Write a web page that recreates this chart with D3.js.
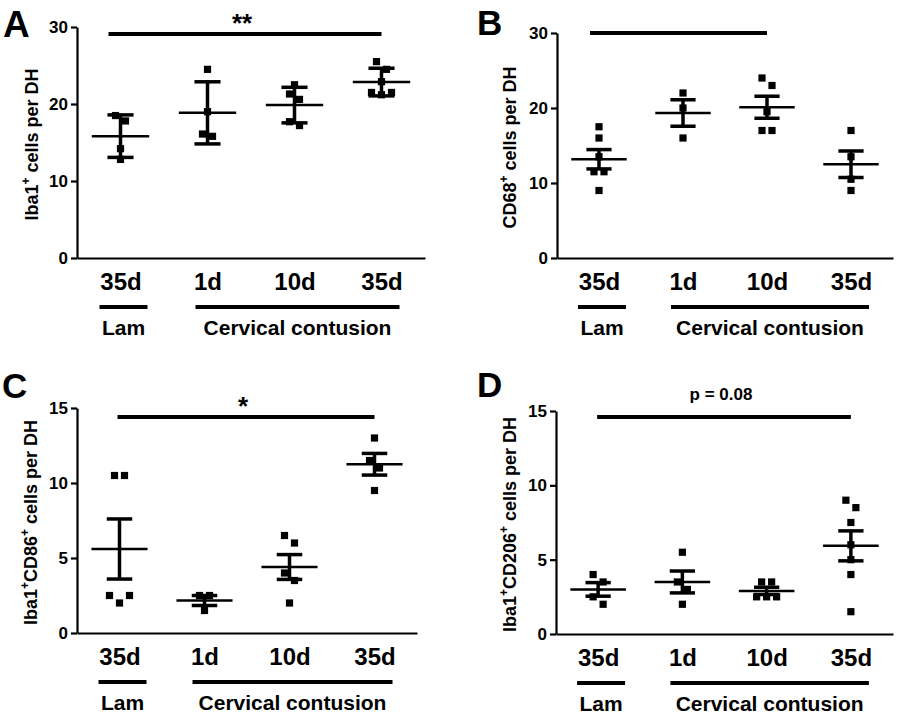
<!DOCTYPE html>
<html>
<head>
<meta charset="utf-8">
<script src="https://cdn.jsdelivr.net/npm/d3@7/dist/d3.min.js"></script>
<style>
  html, body { margin: 0; padding: 0; background: #fff; }
  svg { display: block; }
  text { font-family: "Liberation Sans", Arial, Helvetica, sans-serif; font-weight: bold; fill: #000; }
</style>
</head>
<body>
<svg id="chart" width="900" height="721"></svg>
<script>
// ---------------- DATA ----------------
const categories = ["35d", "1d", "10d", "35d"];
const groupLabels = ["Lam", "Cervical contusion"];
const groupSpans = [[0, 0], [1, 3]];

const panelLetters = ["A", "B", "C", "D"];
const yMax = [30, 30, 15, 15];
const yTicksAB = [0, 10, 20, 30];
const yTicksCD = [0, 5, 10, 15];
const errorTypes = ["SD", "SEM", "SEM", "SEM"];

// y-axis titles: [text, isSuperscript]
const titleA = [["Iba1", false], ["+", true], [" cells per DH", false]];
const titleB = [["CD68", false], ["+", true], [" cells per DH", false]];
const titleC = [["Iba1", false], ["+", true], ["CD86", false], ["+", true], [" cells per DH", false]];
const titleD = [["Iba1", false], ["+", true], ["CD206", false], ["+", true], [" cells per DH", false]];

// values per category (Lam 35d, CC 1d, CC 10d, CC 35d)
const iba1Values = [
  [18.5, 17.8, 14.2, 12.8],
  [24.5, 19.0, 16.1, 15.8],
  [22.5, 21.3, 20.6, 17.7, 17.2],
  [25.5, 24.5, 22.9, 21.5, 21.2, 21.5]
];
const cd68Values = [
  [17.5, 16.0, 13.5, 11.5, 11.5, 9.0],
  [22.0, 20.0, 16.0],
  [24.0, 23.0, 19.5, 17.0, 17.0],
  [17.0, 13.5, 10.5, 9.0]
];
const cd86Values = [
  [10.5, 10.5, 2.5, 2.5, 2.0],
  [2.5, 2.5, 1.5],
  [6.5, 6.0, 4.0, 3.5, 2.0],
  [13.0, 11.5, 11.0, 9.5]
];
const cd206Values = [
  [4.0, 3.5, 2.5, 2.0],
  [5.5, 3.5, 3.0, 2.0],
  [3.5, 3.5, 2.5, 2.5, 2.5],
  [9.0, 8.5, 7.5, 6.0, 5.0, 4.0, 1.5]
];

// significance bars
const sigFrom = [0, 0, 0, 0];
const sigTo = [3, 2, 3, 3];
const sigLevel = [29.1, 30, 14.4, 14.6];
const sigText = ["**", "", "*", "p = 0.08"];

// ---------------- LAYOUT ----------------
const layout = [
  { x0: 77,  x1: 425, yTop: 27,  yBot: 258, letterX: 3,   letterY: 37,  letterSize: 37, titleX: 38,  sigPadL: -12 },
  { x0: 557, x1: 893, yTop: 33,  yBot: 258, letterX: 477, letterY: 35,  letterSize: 35, titleX: 516, sigPadL: -9 },
  { x0: 77,  x1: 417, yTop: 408, yBot: 633, letterX: 2,   letterY: 398, letterSize: 35, titleX: 37,  sigPadL: -2 },
  { x0: 556, x1: 893, yTop: 411, yBot: 634, letterX: 477, letterY: 397, letterSize: 35, titleX: 516, sigPadL: -1 }
];
const allValues = [iba1Values, cd68Values, cd86Values, cd206Values];
const allTitles = [titleA, titleB, titleC, titleD];
const allTicks = [yTicksAB, yTicksAB, yTicksCD, yTicksCD];

const svg = d3.select("#chart");

function clusterOffsets(vals, y) {
  // group points that overlap vertically (chain within 8px), spread them horizontally
  const idx = vals.map((v, i) => i).sort((a, b) => vals[b] - vals[a]);
  const clusters = [];
  let cur = [idx[0]];
  for (let k = 1; k < idx.length; k++) {
    const prev = cur[cur.length - 1];
    if (Math.abs(y(vals[idx[k]]) - y(vals[prev])) < 8) cur.push(idx[k]);
    else { clusters.push(cur); cur = [idx[k]]; }
  }
  clusters.push(cur);
  const off = new Array(vals.length).fill(0);
  const sp = 10;
  clusters.forEach(c => {
    const n = c.length;
    if (n === 1) return;
    const slots = d3.range(n).map(i => (i - (n - 1) / 2) * sp);
    // outermost first, alternating left/right; lowest value takes the centre for odd n
    const order = slots.slice().sort((a, b) => (Math.abs(b) - Math.abs(a)) || (a - b));
    c.forEach((pi, k) => { off[pi] = order[k]; });
    if (n % 2 === 1) {
      // ensure lowest value (last in c) at centre
      const centreIdx = c.find(pi => off[pi] === 0);
      const lowest = c[n - 1];
      const t = off[lowest]; off[lowest] = 0; off[centreIdx] = t;
    }
  });
  return off;
}

layout.forEach((L, p) => {
  const g = svg.append("g");
  const x = d3.scalePoint().domain([0, 1, 2, 3]).range([L.x0, L.x1]).padding(0.5);
  const y = d3.scaleLinear().domain([0, yMax[p]]).range([L.yBot, L.yTop]);
  const step = x.step();

  // y axis
  const ya = g.append("g")
    .attr("transform", `translate(${L.x0},0)`)
    .call(d3.axisLeft(y).tickValues(allTicks[p]).tickSize(6).tickSizeOuter(0).tickPadding(3));
  ya.select(".domain").attr("stroke", "#000").attr("stroke-width", 2.2);
  ya.selectAll(".tick line").attr("stroke", "#000").attr("stroke-width", 2.2);
  ya.selectAll(".tick text").style("font-size", "17px").style("font-weight", "bold")
    .style("font-family", '"Liberation Sans", Arial, sans-serif').attr("fill", "#000");

  // x axis
  const xa = g.append("g")
    .attr("transform", `translate(0,${L.yBot})`)
    .call(d3.axisBottom(x).tickSize(0).tickSizeOuter(0).tickPadding(15).tickFormat(i => categories[i]));
  xa.select(".domain").attr("stroke", "#000").attr("stroke-width", 2.2);
  xa.selectAll(".tick text").style("font-size", "24px").style("font-weight", "bold")
    .style("font-family", '"Liberation Sans", Arial, sans-serif').attr("fill", "#000");

  // y title
  const cy = (L.yTop + L.yBot) / 2 + 2;
  const tt = g.append("text")
    .attr("transform", `translate(${L.titleX},${cy}) rotate(-90)`)
    .attr("text-anchor", "middle")
    .style("font-size", "18px");
  allTitles[p].forEach(([s, sup], k) => {
    const prevSup = k > 0 && allTitles[p][k - 1][1];
    const ts = tt.append("tspan").text(s);
    if (sup) ts.style("font-size", "12px").attr("dy", -8);
    else if (prevSup) ts.attr("dy", 8);
  });

  // panel letter
  g.append("text").attr("x", L.letterX).attr("y", L.letterY)
    .style("font-size", L.letterSize + "px").text(panelLetters[p]);

  // data
  allValues[p].forEach((vals, i) => {
    const cx = x(i);
    const mean = d3.mean(vals);
    const sd = d3.deviation(vals);
    const err = errorTypes[p] === "SD" ? sd : sd / Math.sqrt(vals.length);
    const offs = clusterOffsets(vals, y);

    g.append("g").selectAll("rect").data(vals).join("rect")
      .attr("x", (v, k) => cx + offs[k] - 3.6)
      .attr("y", v => y(v) - 3.6)
      .attr("width", 7.2).attr("height", 7.2).attr("fill", "#000");

    const capW = 0.15 * step, meanW = 0.33 * step;
    g.append("line").attr("x1", cx).attr("x2", cx)
      .attr("y1", y(mean + err)).attr("y2", y(mean - err))
      .attr("stroke", "#000").attr("stroke-width", 3.5);
    [mean + err, mean - err].forEach(v => {
      g.append("line").attr("x1", cx - capW).attr("x2", cx + capW)
        .attr("y1", y(v)).attr("y2", y(v))
        .attr("stroke", "#000").attr("stroke-width", 3.5);
    });
    g.append("line").attr("x1", cx - meanW).attr("x2", cx + meanW)
      .attr("y1", y(mean)).attr("y2", y(mean))
      .attr("stroke", "#000").attr("stroke-width", 2.5);
  });

  // significance bar
  const sy = y(sigLevel[p]);
  const sx1 = x(sigFrom[p]) + L.sigPadL, sx2 = x(sigTo[p]);
  g.append("line").attr("x1", sx1).attr("x2", sx2).attr("y1", sy).attr("y2", sy)
    .attr("stroke", "#000").attr("stroke-width", 4);
  if (sigText[p]) {
    const isStar = /^\*+$/.test(sigText[p]);
    g.append("text").attr("x", (sx1 + sx2) / 2 - 3)
      .attr("y", isStar ? sy - 2 : sy - 17)
      .attr("text-anchor", "middle")
      .style("font-size", isStar ? "26px" : "17px")
      .text(sigText[p]);
  }

  // group lines and labels
  const lineY = L.yBot + 49;
  groupSpans.forEach(([a, b], k) => {
    const xl = a === b ? x(a) - 21 : x(a) - 12;
    const xr = a === b ? x(b) + 27 : x(b) + 18;
    g.append("line").attr("x1", xl).attr("x2", xr).attr("y1", lineY).attr("y2", lineY)
      .attr("stroke", "#000").attr("stroke-width", 4);
    g.append("text").attr("x", (xl + xr) / 2).attr("y", lineY + 28)
      .attr("text-anchor", "middle").style("font-size", "21px").text(groupLabels[k]);
  });
});
</script>
</body>
</html>
